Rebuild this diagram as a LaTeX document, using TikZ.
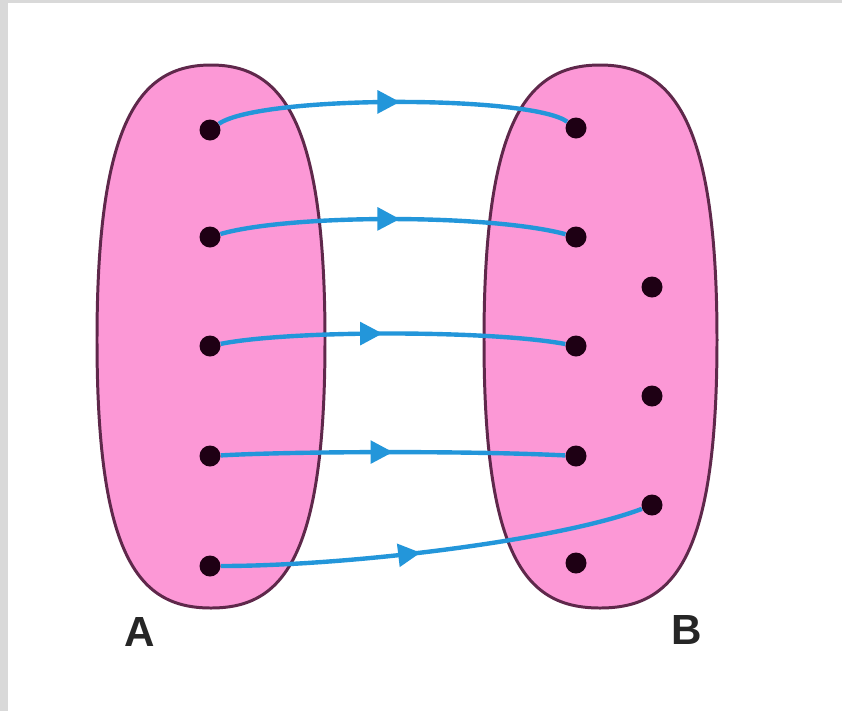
\documentclass[tikz,border=0pt]{standalone}
\usepackage{fontspec}
\setsansfont{Liberation Sans}
\usetikzlibrary{arrows.meta, decorations.markings, positioning}

\definecolor{framegray}{RGB}{217,217,217}
\definecolor{setpink}{RGB}{252,152,214}
\definecolor{setline}{RGB}{95,40,75}
\definecolor{mapblue}{RGB}{35,150,218}
\definecolor{dotblack}{RGB}{30,0,20}

\tikzset{
    setblob/.style={fill=setpink, draw=setline, line width=1.7pt},
    elem/.style={circle, fill=dotblack, inner sep=0pt, minimum size=0.42cm},
    maparrow/.style={draw=mapblue, line width=2.5pt, postaction={decorate},
        decoration={markings, mark=at position #1 with {\arrow[mapblue]{Triangle[length=0.45cm, width=0.45cm]}}}},
    maparrow/.default=0.52,
    setlabel/.style={font=\sffamily\bfseries\fontsize{24}{28}\selectfont, text=black!85}
}

\begin{document}
\begin{tikzpicture}[x=0.02cm, y=-0.02cm]
    % Frame
    \useasboundingbox (0,0) rectangle (842,711);
    \fill[framegray] (0,0) rectangle (842,711);
    \fill[white] (8,3) rectangle (842,711);

    % Sets A and B
    \draw[setblob] (97,340) .. controls (97,120) and (140,65) .. (211,65)
        .. controls (282,65) and (325,120) .. (325,340)
        .. controls (325,560) and (282,608) .. (211,608)
        .. controls (140,608) and (97,560) .. (97,340) -- cycle;
    \draw[setblob] (484,340) .. controls (484,120) and (527,65) .. (600,65)
        .. controls (673,65) and (717,120) .. (717,340)
        .. controls (717,560) and (673,608) .. (600,608)
        .. controls (527,608) and (484,560) .. (484,340) -- cycle;

    % Elements of A
    \foreach \i/\y in {1/130, 2/237, 3/346, 4/456, 5/566}
        \node[elem] (a\i) at (210,\y) {};
    % Elements of B
    \foreach \i/\y in {1/128, 2/237, 3/346, 4/456, 5/563}
        \node[elem] (b\i) at (576,\y) {};
    \foreach \i/\y in {1/287, 2/396, 3/505}
        \node[elem] (c\i) at (652,\y) {};

    % Mapping
    \draw[maparrow] (a1) .. controls (260,95) and (530,95) .. (b1);
    \draw[maparrow] (a2) .. controls (290,214) and (490,214) .. (b2);
    \draw[maparrow=0.47] (a3) .. controls (290,330) and (490,330) .. (b3);
    \draw[maparrow=0.5] (a4) .. controls (300,451) and (480,451) .. (b4);
    \draw[maparrow=0.47] (a5) .. controls (350,566) and (560,540) .. (c3);

    % Labels
    \node[setlabel] (labA) at (140,632) {A};
    \node[setlabel] (labB) at (687,630) {B};
\end{tikzpicture}
\end{document}
